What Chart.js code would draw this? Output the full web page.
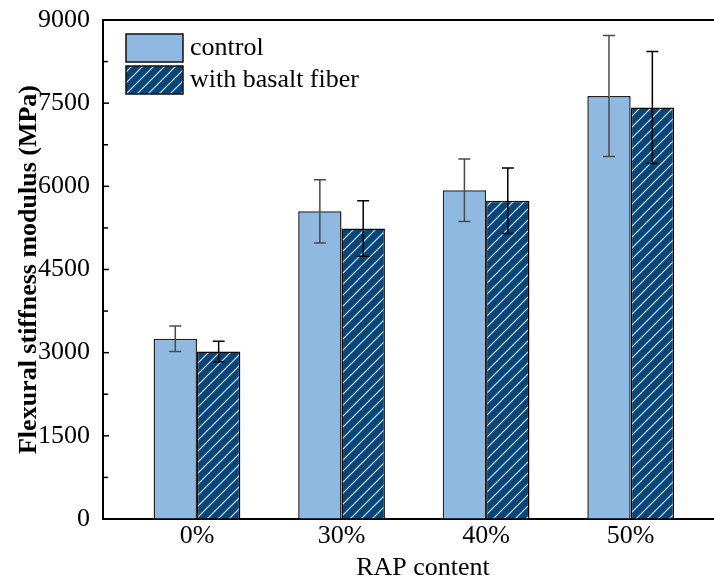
<!DOCTYPE html>
<html>
<head>
<meta charset="utf-8">
<script src="https://cdn.jsdelivr.net/npm/chart.js@4.4.1/dist/chart.umd.min.js"></script>
<style>
  html, body { margin: 0; padding: 0; background: #ffffff; overflow: hidden; }
  #wrap { width: 714px; height: 581px; overflow: hidden; }
</style>
</head>
<body>
<div id="wrap"><canvas id="c" width="745" height="581"></canvas></div>
<script>
// ---- data ----
const categories = ['0%', '30%', '40%', '50%'];
const seriesNames = ['control', 'with basalt fiber'];
const controlValues = [3250, 5550, 5930, 7630];
const controlErrors = [230, 570, 565, 1090];
const basaltValues = [3020, 5240, 5740, 7420];
const basaltErrors = [185, 500, 590, 1010];
const yTicks = [0, 1500, 3000, 4500, 6000, 7500, 9000];
const xTitle = 'RAP content';
const yTitle = 'Flexural stiffness modulus (MPa)';

// ---- styles ----
const FONT = "'Liberation Serif', 'Times New Roman', serif";
const controlColor = '#8fb9e1';
const basaltColor = '#06457a';

function makeHatch() {
  const s = 11;
  const pc = document.createElement('canvas');
  pc.width = s; pc.height = s;
  const p = pc.getContext('2d');
  p.fillStyle = basaltColor;
  p.fillRect(0, 0, s, s);
  p.strokeStyle = '#dbe8f4';
  p.lineWidth = 1.2;
  p.beginPath();
  p.moveTo(-1, s + 1); p.lineTo(s + 1, -1);
  p.moveTo(-1, 1); p.lineTo(1, -1);
  p.moveTo(s - 1, s + 1); p.lineTo(s + 1, s - 1);
  p.stroke();
  return p.createPattern(pc, 'repeat');
}
const ctx0 = document.getElementById('c').getContext('2d');
const hatch = makeHatch();

const xs = categories.map((_, i) => i + 1);

const errorBarPlugin = {
  id: 'errorBars',
  afterDatasetsDraw(chart) {
    const ctx = chart.ctx;
    const yScale = chart.scales.y;
    const sets = [[controlValues, controlErrors, '#4a4a4a'], [basaltValues, basaltErrors, '#000000']];
    sets.forEach(([vals, errs, col], di) => {
      const meta = chart.getDatasetMeta(di);
      meta.data.forEach((bar, i) => {
        const x = bar.x;
        const yTop = yScale.getPixelForValue(vals[i] + errs[i]);
        const yBot = yScale.getPixelForValue(vals[i] - errs[i]);
        ctx.save();
        ctx.strokeStyle = col;
        ctx.lineWidth = 1.5;
        ctx.beginPath();
        ctx.moveTo(x, yTop); ctx.lineTo(x, yBot);
        ctx.moveTo(x - 6, yTop); ctx.lineTo(x + 6, yTop);
        ctx.moveTo(x - 6, yBot); ctx.lineTo(x + 6, yBot);
        ctx.stroke();
        ctx.restore();
      });
    });
  }
};

const frameAndTicksPlugin = {
  id: 'frameTicks',
  afterDraw(chart) {
    const ctx = chart.ctx;
    const a = chart.chartArea;
    const yScale = chart.scales.y;
    ctx.save();
    ctx.strokeStyle = '#000';
    ctx.lineWidth = 2;
    ctx.beginPath();
    ctx.moveTo(a.left - 1, a.top); ctx.lineTo(a.right + 2, a.top);
    ctx.stroke();
    ctx.lineWidth = 1.5;
    for (let k = 0; k < yTicks.length; k++) {
      const v = yTicks[k];
      const py = yScale.getPixelForValue(v);
      ctx.beginPath(); ctx.moveTo(a.left, py); ctx.lineTo(a.left + 6, py); ctx.stroke();
      if (k < yTicks.length - 1) {
        const mv = (yTicks[k] + yTicks[k + 1]) / 2;
        const my = yScale.getPixelForValue(mv);
        ctx.beginPath(); ctx.moveTo(a.left, my); ctx.lineTo(a.left + 5, my); ctx.stroke();
      }
    }
    ctx.restore();
  }
};

const legendPlugin = {
  id: 'customLegend',
  afterDraw(chart) {
    const ctx = chart.ctx;
    const items = [
      { name: seriesNames[0], fill: controlColor, y: 34 },
      { name: seriesNames[1], fill: hatch, y: 66 }
    ];
    ctx.save();
    items.forEach(it => {
      ctx.fillStyle = it.fill;
      ctx.fillRect(126, it.y, 57, 28);
      ctx.strokeStyle = '#111';
      ctx.lineWidth = 1.5;
      ctx.strokeRect(126, it.y, 57, 28);
      ctx.fillStyle = '#000';
      ctx.font = "26px " + FONT;
      ctx.textBaseline = 'middle';
      ctx.textAlign = 'left';
      ctx.fillText(it.name, 190, it.y + 14);
    });
    ctx.restore();
  }
};

new Chart(document.getElementById('c'), {
  type: 'bar',
  data: {
    datasets: [
      {
        label: seriesNames[0],
        data: xs.map((x, i) => ({ x: x, y: controlValues[i] })),
        backgroundColor: controlColor,
        borderColor: '#222',
        borderWidth: 1.5,
        barPercentage: 1.0,
        categoryPercentage: 0.6
      },
      {
        label: seriesNames[1],
        data: xs.map((x, i) => ({ x: x, y: basaltValues[i] })),
        backgroundColor: hatch,
        borderColor: '#000',
        borderWidth: 1.5,
        barPercentage: 1.0,
        categoryPercentage: 0.6
      }
    ]
  },
  options: {
    responsive: false,
    animation: false,
    layout: { padding: { top: 20, right: 2, left: 0, bottom: 0 } },
    plugins: {
      legend: { display: false },
      tooltip: { enabled: false }
    },
    scales: {
      x: {
        type: 'linear',
        offset: false,
        min: 0.35,
        max: 4.777,
        afterBuildTicks(scale) { scale.ticks = xs.map(v => ({ value: v })); },
        afterFit(scale) { scale.height = 62; scale.paddingLeft = 0; scale.paddingRight = 0; },
        ticks: {
          autoSkip: false,
          maxRotation: 0,
          padding: 2,
          color: '#000',
          font: { family: FONT, size: 26 },
          callback: (v) => { const i = xs.indexOf(v); return i >= 0 ? categories[i] : ''; }
        },
        grid: { display: true, drawOnChartArea: false, drawTicks: false },
        border: { display: true, color: '#000', width: 2 },
        title: {
          display: true,
          text: xTitle,
          color: '#000',
          padding: 0,
          font: { family: FONT, size: 26, lineHeight: 1.0 }
        }
      },
      y: {
        min: 0,
        max: 9000,
        afterBuildTicks(scale) { scale.ticks = yTicks.map(v => ({ value: v })); },
        afterFit(scale) { scale.width = 103; scale.paddingTop = 0; scale.paddingBottom = 0; },
        ticks: {
          padding: 13,
          color: '#000',
          font: { family: FONT, size: 26 },
          callback: (v) => String(v)
        },
        grid: { display: true, drawOnChartArea: false, drawTicks: false },
        border: { display: true, color: '#000', width: 2 },
        title: {
          display: true,
          text: yTitle,
          color: '#000',
          padding: { top: 14, bottom: 0 },
          font: { family: FONT, size: 26, weight: 'bold', lineHeight: 1.2 }
        }
      }
    }
  },
  plugins: [errorBarPlugin, frameAndTicksPlugin, legendPlugin]
});
</script>
</body>
</html>
